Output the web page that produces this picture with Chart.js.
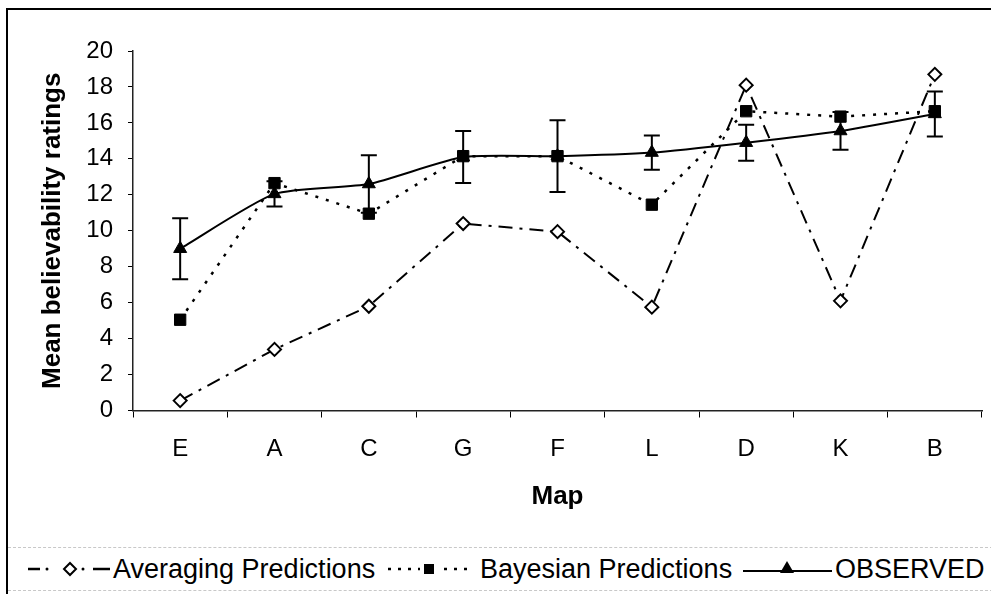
<!DOCTYPE html>
<html lang="en">
<head>
    <meta charset="UTF-8">
    <title>Mean believability ratings by map</title>
    <style>
        body { margin: 0; background: #fff; width: 991px; height: 594px; overflow: hidden; position: relative; font-family: "Liberation Sans", Arial, sans-serif; }
        #frame { position: absolute; left: 6px; top: 8px; width: 1000px; height: 600px; border-left: 2px solid #000; border-top: 2px solid #000; }
        #chartBox { position: absolute; left: 0; top: 0; width: 991px; height: 530px; }
        #legend { position: absolute; left: 8px; top: 547px; width: 990px; height: 42px; border-top: 1px dashed #c8c8c8; border-bottom: 1px dashed #c8c8c8; }
        .legText { position: absolute; top: 0; line-height: 42px; font-size: 27px; color: #000; white-space: nowrap; }
        #legend svg { position: absolute; left: 0; top: 0; }
    </style>
</head>
<body>
    <div id="frame"></div>
    <div id="chartBox"><canvas id="mapChart" width="991" height="530"></canvas></div>

    <div id="legend">
        <svg width="990" height="42">
            <!-- averaging: dash dot diamond dot dash -->
            <line x1="20" y1="21" x2="32" y2="21" stroke="#000" stroke-width="2.5"/>
            <circle cx="39" cy="21" r="1.5" fill="#000"/>
            <polygon points="62,15 68,21 62,27 56,21" fill="#fff" stroke="#000" stroke-width="2"/>
            <circle cx="75" cy="21" r="1.5" fill="#000"/>
            <line x1="85" y1="21" x2="102" y2="21" stroke="#000" stroke-width="2.5"/>
            <!-- bayesian: dotted with square -->
            <line x1="380" y1="21" x2="412" y2="21" stroke="#000" stroke-width="2.5" stroke-dasharray="3,7"/>
            <rect x="416" y="16" width="10" height="10" fill="#000"/>
            <line x1="436" y1="21" x2="464" y2="21" stroke="#000" stroke-width="2.5" stroke-dasharray="3,7"/>
            <!-- observed: solid with triangle -->
            <line x1="735" y1="23" x2="824" y2="23" stroke="#000" stroke-width="2"/>
            <polygon points="779,13 786,25 772,25" fill="#000"/>
        </svg>
        <span class="legText" style="left:105px">Averaging Predictions</span>
        <span class="legText" style="left:472px">Bayesian Predictions</span>
        <span class="legText" style="left:827px">OBSERVED</span>
    </div>

    <script src="https://cdn.jsdelivr.net/npm/chart.js"></script>
    <script>
        // Maps in the order shown on the x axis
        const maps = ['E', 'A', 'C', 'G', 'F', 'L', 'D', 'K', 'B'];

        // Series values
        const averagingPredictions = [0.55, 3.4, 5.8, 10.4, 9.95, 5.75, 18.1, 6.1, 18.7];
        const bayesianPredictions = [5.05, 12.65, 10.95, 14.15, 14.15, 11.45, 16.65, 16.35, 16.65];
        const observed = [9.0, 12.05, 12.6, 14.1, 14.15, 14.35, 14.9, 15.55, 16.5];
        const observedError = [1.7, 0.7, 1.6, 1.45, 2.0, 0.95, 1.0, 1.05, 1.25];

        const yTicks = [0, 2, 4, 6, 8, 10, 12, 14, 16, 18, 20];

        const tickFont = { family: 'Liberation Sans', size: 24 };
        const titleFont = { family: 'Liberation Sans', size: 26, weight: 'bold' };

        // Error bars on the OBSERVED series
        const errorBarPlugin = {
            id: 'errorBars',
            afterDatasetsDraw(chart) {
                const meta = chart.getDatasetMeta(1);
                const yScale = chart.scales.y;
                const ctx = chart.ctx;
                ctx.save();
                ctx.strokeStyle = '#000';
                ctx.lineWidth = 2;
                meta.data.forEach((pt, i) => {
                    const top = yScale.getPixelForValue(observed[i] + observedError[i]);
                    const bottom = yScale.getPixelForValue(observed[i] - observedError[i]);
                    ctx.beginPath();
                    ctx.moveTo(pt.x, top);
                    ctx.lineTo(pt.x, bottom);
                    ctx.moveTo(pt.x - 8, top);
                    ctx.lineTo(pt.x + 8, top);
                    ctx.moveTo(pt.x - 8, bottom);
                    ctx.lineTo(pt.x + 8, bottom);
                    ctx.stroke();
                });
                ctx.restore();
            }
        };

        const ctx = document.getElementById('mapChart').getContext('2d');
        const mapChart = new Chart(ctx, {
            type: 'line',
            data: {
                labels: maps,
                datasets: [
                    {
                        label: 'Averaging Predictions',
                        data: averagingPredictions,
                        borderColor: '#000',
                        borderWidth: 2,
                        borderDash: [14, 7, 3, 7],
                        pointStyle: 'rectRot',
                        pointRadius: 6.5,
                        pointBackgroundColor: '#fff',
                        pointBorderColor: '#000',
                        pointBorderWidth: 2,
                        order: 2,
                    },
                    {
                        label: 'OBSERVED',
                        data: observed,
                        borderColor: '#000',
                        borderWidth: 2,
                        tension: 0.2,
                        pointStyle: 'triangle',
                        pointRadius: 7.5,
                        pointBackgroundColor: '#000',
                        pointBorderColor: '#000',
                        pointBorderWidth: 1,
                        order: 1,
                    },
                    {
                        label: 'Bayesian Predictions',
                        data: bayesianPredictions,
                        borderColor: '#000',
                        borderWidth: 2.5,
                        borderDash: [3, 8],
                        pointStyle: 'rect',
                        pointRadius: 8,
                        pointBackgroundColor: '#000',
                        pointBorderColor: '#000',
                        pointBorderWidth: 1,
                        order: 0,
                    },
                ],
            },
            options: {
                responsive: false,
                animation: false,
                layout: { padding: { left: 0, top: 51, right: 9, bottom: 0 } },
                plugins: {
                    legend: { display: false },
                    tooltip: { enabled: false },
                },
                scales: {
                    x: {
                        offset: true,
                        afterFit: (scale) => { scale.height = 119.5; },
                        grid: {
                            display: true,
                            drawOnChartArea: false,
                            drawTicks: true,
                            tickLength: 7,
                            color: '#000',
                            offset: true,
                        },
                        border: { display: true, color: '#222', width: 1.5 },
                        ticks: { color: '#000', font: tickFont, padding: 17, maxRotation: 0 },
                        title: { display: true, text: 'Map', color: '#000', font: titleFont, padding: { top: 0, bottom: 18 } },
                    },
                    y: {
                        min: 0,
                        max: 20,
                        afterFit: (scale) => { scale.width = 133; },
                        afterBuildTicks: (scale) => { scale.ticks = yTicks.map(v => ({ value: v })); },
                        grid: {
                            display: true,
                            drawOnChartArea: false,
                            drawTicks: true,
                            tickLength: 5,
                            color: '#000',
                        },
                        border: { display: true, color: '#222', width: 1.5 },
                        ticks: { color: '#000', font: tickFont, padding: 15 },
                        title: { display: true, text: 'Mean believability ratings', color: '#000', font: titleFont, padding: { top: 37, bottom: 0 } },
                    },
                },
            },
            plugins: [errorBarPlugin],
        });
    </script>
</body>
</html>
